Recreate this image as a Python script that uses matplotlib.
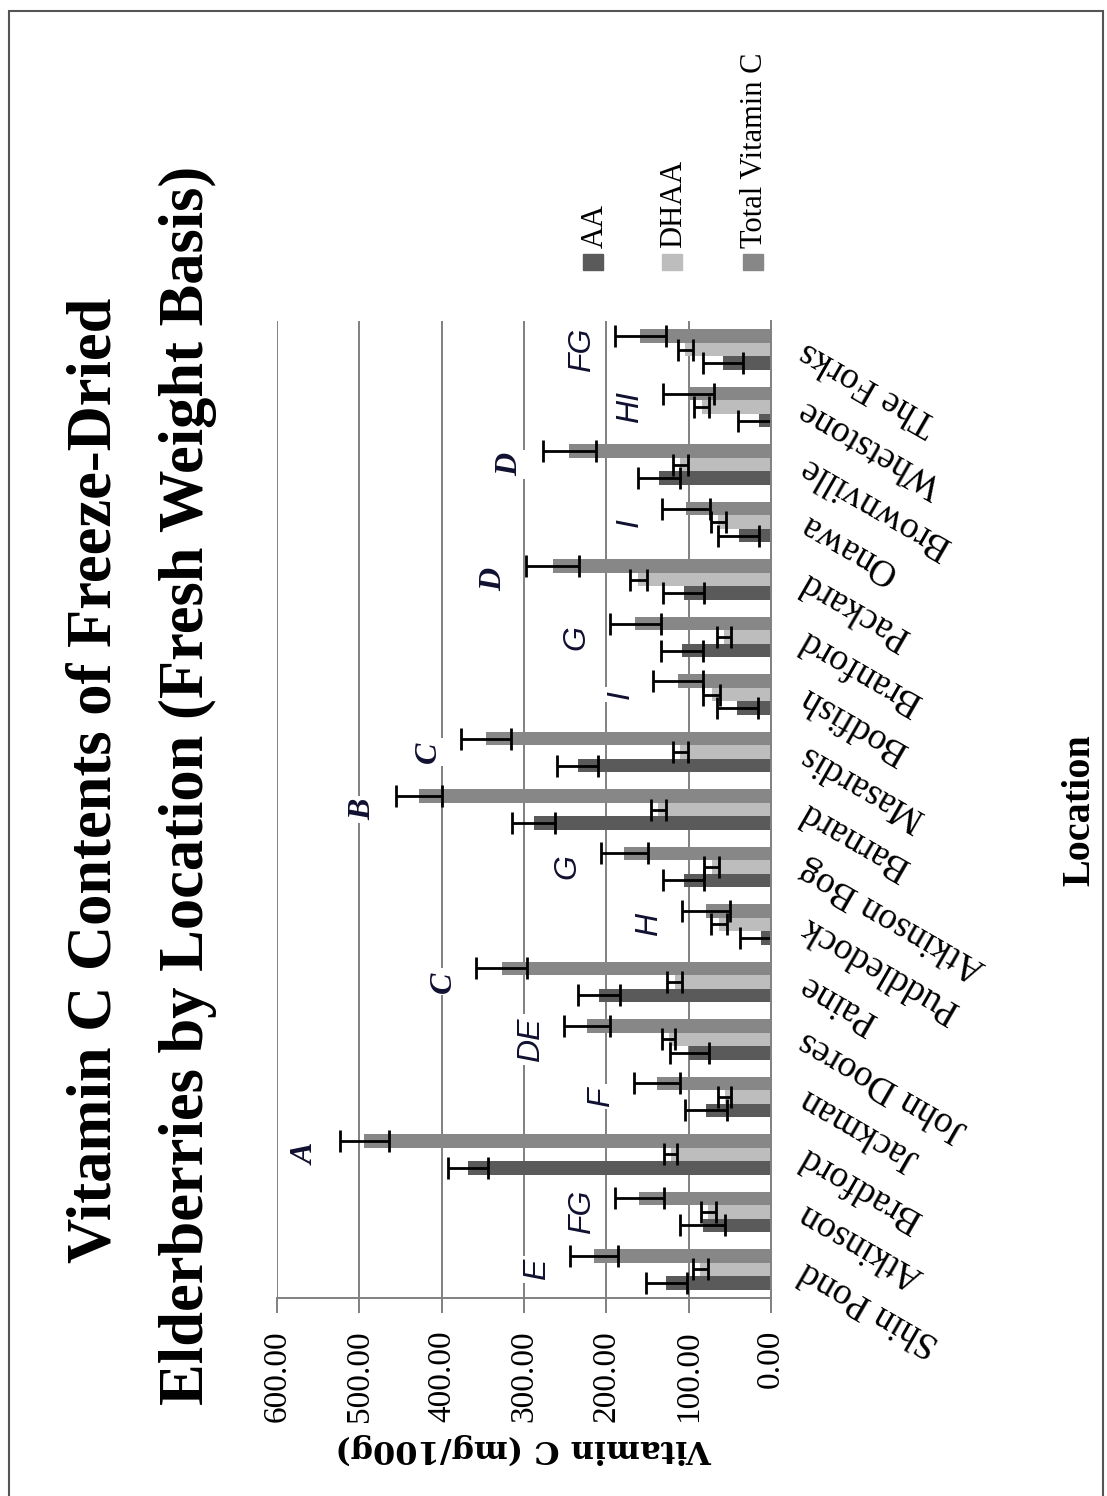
import matplotlib
matplotlib.use("Agg")
import matplotlib.pyplot as plt
from matplotlib.patches import Rectangle
from matplotlib.ticker import FormatStrFormatter
import numpy as np

# data (mg/100g)
locations = ["Shin Pond", "Atkinson", "Bradford", "Jackman", "John Doores", "Paine",
             "Puddledock", "Atkinson Bog", "Barnard", "Masardis", "Bodfish", "Branford",
             "Packard", "Onawa", "Brownville", "Whetstone", "The Forks"]
aa = [127, 83, 368, 79, 99, 209, 12, 106, 288, 235, 41, 108, 106, 39, 136, 15, 58]
aa_err = [25, 27, 24, 25, 24, 25, 26, 25, 26, 25, 25, 25, 25, 25, 26, 25, 24]
dhaa = [86, 76, 122, 56, 124, 117, 63, 72, 137, 110, 72, 57, 161, 64, 110, 84, 104]
dhaa_err = [9, 9, 8, 8, 8, 9, 10, 9, 9, 9, 10, 9, 10, 9, 9, 9, 9]
total = [215, 160, 494, 138, 224, 327, 79, 178, 428, 346, 113, 165, 265, 103, 245, 100, 159]
total_err = [29, 30, 30, 28, 28, 31, 29, 29, 28, 30, 30, 31, 32, 29, 32, 31, 31]
letters = ["E", "FG", "A", "F", "DE", "C", "H", "G", "B", "C", "I", "G", "D", "I", "D", "HI", "FG"]
series = ["AA", "DHAA", "Total Vitamin C"]
colors = ["#5a5a5a", "#bdbdbd", "#878787"]

W, H = 1107, 1496
fig = plt.figure(figsize=(W / 100, H / 100), dpi=100)

# the chart is shown turned a quarter turn, so bars run right to left
ax = fig.add_axes([277 / W, 1 - 1298 / H, (771 - 277) / W, (1298 - 321) / H])
y = np.arange(len(locations))
h = 0.235
ekw = dict(ecolor="black", elinewidth=2, capsize=8, capthick=2)
ax.barh(y - h, aa, h, xerr=aa_err, color=colors[0], error_kw=ekw)
ax.barh(y, dhaa, h, xerr=dhaa_err, color=colors[1], error_kw=ekw)
ax.barh(y + h, total, h, xerr=total_err, color=colors[2], error_kw=ekw)

ax.set_xlim(600, 0)
ax.set_ylim(-0.5, len(locations) - 0.5)
ax.set_axisbelow(True)
ax.grid(axis="x", color="#808080", lw=1.4)
ax.set_xticks(np.arange(0, 601, 100))
ax.xaxis.set_major_formatter(FormatStrFormatter("%.2f"))
ax.tick_params(axis="x", direction="out", length=11, width=1.4, color="#808080", pad=12)
for lab in ax.get_xticklabels():
    lab.set_rotation(90)
    lab.set_family("Liberation Serif")
    lab.set_fontsize(24)
ax.set_xlabel("Vitamin C (mg/100g)", rotation=180, family="DejaVu Serif",
              fontweight="bold", fontsize=23, labelpad=8)

ax.yaxis.tick_right()
ax.set_yticks(y)
ax.set_yticklabels(locations)
ax.tick_params(axis="y", length=0, pad=22)
for lab in ax.get_yticklabels():
    lab.set_rotation(150)
    lab.set_ha("right")
    lab.set_va("center")
    lab.set_rotation_mode("anchor")
    lab.set_family("Liberation Serif")
    lab.set_fontsize(27)

for s in ["top", "left"]:
    ax.spines[s].set_visible(False)
for s in ["right", "bottom"]:
    ax.spines[s].set_color("#808080")
    ax.spines[s].set_linewidth(1.4)

# significance letters
for i, t in enumerate(letters):
    if t in ["A", "B", "C", "D"]:
        fam, wt = "Liberation Serif", "bold"
    else:
        fam, wt = "Liberation Sans", "normal"
    ax.text(total[i] + total_err[i] + 40, i, t, rotation=90, ha="center", va="center",
            family=fam, fontweight=wt, style="italic", fontsize=23, color="#101030",
            bbox=dict(facecolor="white", edgecolor="none", pad=2))

# title
fig.text(96 / W, 1 - 780 / H, "Vitamin C Contents of Freeze-Dried", rotation=90,
         ha="center", va="center", family="Liberation Serif", fontweight="bold", fontsize=45)
fig.text(188 / W, 1 - 785 / H, "Elderberries by Location (Fresh Weight Basis)", rotation=90,
         ha="center", va="center", family="Liberation Serif", fontweight="bold", fontsize=45)

# legend
for k, name in enumerate(series):
    xc = [593, 672, 753][k]
    fig.add_artist(Rectangle(((xc - 10) / W, 1 - 270 / H), 20 / W, 16 / H,
                             transform=fig.transFigure, color=colors[k]))
    fig.text((xc + 2) / W, 1 - 248 / H, name, rotation=90, ha="center", va="bottom",
             family="Liberation Serif", fontsize=22)

fig.text(1080 / W, 1 - 810 / H, "Location", rotation=90, ha="center", va="center",
         family="Liberation Serif", fontweight="bold", fontsize=29)

# page frame
fig.add_artist(Rectangle((9 / W, -0.01), (1103 - 9) / W, 1.01 - 11 / H, fill=False,
                         edgecolor="#555555", lw=1.5, transform=fig.transFigure))

fig.savefig("out.png", dpi=100)
